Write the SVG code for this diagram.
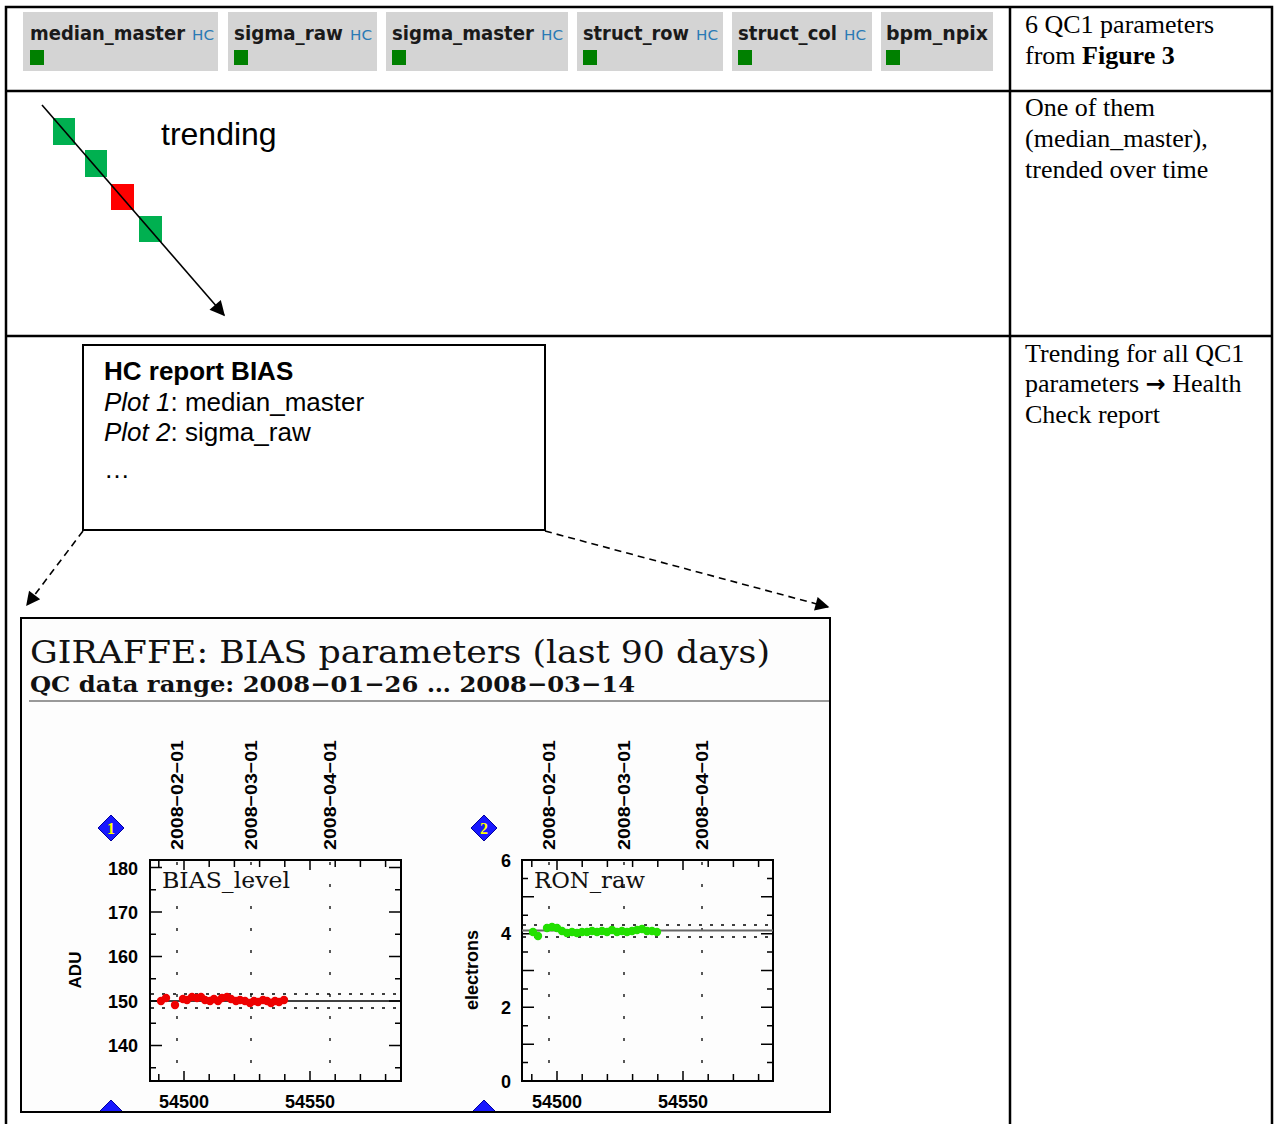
<svg xmlns="http://www.w3.org/2000/svg" width="1274" height="1124" viewBox="0 0 1274 1124">
<style>
.tbl{stroke:#000;stroke-width:2.5;fill:none}
.badge{fill:#d4d4d4}
.bl{font-family:"DejaVu Sans",sans-serif;font-weight:bold;font-size:19px;fill:#1a1a1a}
.hc{font-family:"DejaVu Sans",sans-serif;font-size:14px;fill:#2a7ab5}
.sq{fill:#008000}
.tms{font-family:"Liberation Serif","Times New Roman",serif;font-size:26px;fill:#000}
.ar{font-family:"Liberation Sans",Arial,sans-serif;fill:#000}
.hv{font-family:"Liberation Sans",Arial,sans-serif;font-weight:bold;fill:#000}
.ser{font-family:"DejaVu Serif","Liberation Serif",serif;fill:#111}
.frame{fill:none;stroke:#000;stroke-width:2}
.tick{fill:none;stroke:#000;stroke-width:1.5}
.vdot{stroke:#000;stroke-width:1.3;stroke-dasharray:3 19}
.hdot{stroke:#000;stroke-width:1.3;stroke-dasharray:3 8}
.dia{fill:#1818ff;stroke:#0000a0;stroke-width:1}
.dnum{font-family:"Liberation Serif",serif;font-weight:bold;font-size:16px;fill:#ffff00}
.conn{stroke:#000;stroke-width:1.6;fill:none}
.dash{stroke:#000;stroke-width:1.6;fill:none;stroke-dasharray:7 5}
</style>
<defs>
<marker id="ah2" viewBox="0 0 10 10" refX="9" refY="5" markerWidth="16" markerHeight="14" markerUnits="userSpaceOnUse" orient="auto"><path d="M0,0 L10,5 L0,10 z" fill="#000"/></marker>
<marker id="ah3" viewBox="0 0 10 10" refX="9" refY="5" markerWidth="19" markerHeight="15" markerUnits="userSpaceOnUse" orient="auto"><path d="M0,0 L10,5 L0,10 z" fill="#000"/></marker>
<clipPath id="plotclip"><rect x="21" y="618" width="809" height="494"/></clipPath>
</defs>
<rect width="1274" height="1124" fill="#fff"/>

<g id="table">
<path class="tbl" d="M6 1124 V7 H1272 V1124 M6 91 H1272 M6 336 H1272 M1010 7 V1124"/>
</g>

<g id="badge-median_master"><rect class="badge" x="23" y="12" width="195" height="59"/><text class="bl" x="30" y="40" textLength="155" lengthAdjust="spacingAndGlyphs">median_master</text><text class="hc" x="192" y="40" textLength="22" lengthAdjust="spacingAndGlyphs">HC</text><rect class="sq" x="30" y="50" width="14" height="15"/></g>
<g id="badge-sigma_raw"><rect class="badge" x="228" y="12" width="149" height="59"/><text class="bl" x="234" y="40" textLength="109" lengthAdjust="spacingAndGlyphs">sigma_raw</text><text class="hc" x="350" y="40" textLength="22" lengthAdjust="spacingAndGlyphs">HC</text><rect class="sq" x="234" y="50" width="14" height="15"/></g>
<g id="badge-sigma_master"><rect class="badge" x="386" y="12" width="182" height="59"/><text class="bl" x="392" y="40" textLength="142" lengthAdjust="spacingAndGlyphs">sigma_master</text><text class="hc" x="541" y="40" textLength="22" lengthAdjust="spacingAndGlyphs">HC</text><rect class="sq" x="392" y="50" width="14" height="15"/></g>
<g id="badge-struct_row"><rect class="badge" x="577" y="12" width="146" height="59"/><text class="bl" x="583" y="40" textLength="106" lengthAdjust="spacingAndGlyphs">struct_row</text><text class="hc" x="696" y="40" textLength="22" lengthAdjust="spacingAndGlyphs">HC</text><rect class="sq" x="583" y="50" width="14" height="15"/></g>
<g id="badge-struct_col"><rect class="badge" x="732" y="12" width="140" height="59"/><text class="bl" x="738" y="40" textLength="99" lengthAdjust="spacingAndGlyphs">struct_col</text><text class="hc" x="844" y="40" textLength="22" lengthAdjust="spacingAndGlyphs">HC</text><rect class="sq" x="738" y="50" width="14" height="15"/></g>
<g id="badge-bpm_npix"><rect class="badge" x="881" y="12" width="112" height="59"/><text class="bl" x="886" y="40" textLength="102" lengthAdjust="spacingAndGlyphs">bpm_npix</text><rect class="sq" x="886" y="50" width="14" height="15"/></g>

<g id="note1"><text class="tms" x="1025" y="33">6 QC1 parameters</text><text class="tms" x="1025" y="64">from <tspan font-weight="bold">Figure 3</tspan></text></g>
<g id="note2"><text class="tms" x="1025" y="116">One of them</text><text class="tms" x="1025" y="147">(median_master),</text><text class="tms" x="1025" y="178">trended over time</text></g>
<g id="note3"><text class="tms" x="1025" y="362">Trending for all QC1</text><text class="tms" x="1025" y="392">parameters <tspan font-family="'DejaVu Sans',sans-serif" font-weight="bold" font-size="24">→</tspan> Health</text><text class="tms" x="1025" y="423">Check report</text></g>

<g id="trend-points">
<rect x="53" y="118" width="22" height="27" fill="#00b050"/>
<rect x="85" y="150" width="22" height="27" fill="#00b050"/>
<rect x="111" y="184" width="23" height="26" fill="#ff0000"/>
<rect x="139" y="216" width="23" height="26" fill="#00b050"/>
</g>
<g id="trending-label"><text class="ar" x="161" y="145" font-size="32">trending</text></g>

<g id="hc-report">
<rect x="83" y="345" width="462" height="185" fill="#fff" stroke="#000" stroke-width="2"/>
<text class="ar" x="104" y="380" font-size="26" font-weight="bold">HC report BIAS</text>
<text class="ar" x="104" y="411" font-size="26"><tspan font-style="italic">Plot 1</tspan>: median_master</text>
<text class="ar" x="104" y="441" font-size="26"><tspan font-style="italic">Plot 2</tspan>: sigma_raw</text>
<text class="ar" x="104" y="478" font-size="26">…</text>
</g>

<g id="connectors">
<line class="conn" x1="42" y1="105" x2="224" y2="315" marker-end="url(#ah3)"/>
<line class="dash" x1="83" y1="531" x2="27" y2="605" marker-end="url(#ah2)"/>
<line class="dash" x1="545" y1="531" x2="828" y2="607" marker-end="url(#ah2)"/>
</g>

<g id="plot-image">
<rect x="21" y="618" width="809" height="494" fill="#fdfdfd"/>
<text class="ser" x="30" y="663" font-size="31" textLength="740" lengthAdjust="spacingAndGlyphs">GIRAFFE: BIAS parameters (last 90 days)</text>
<text class="ser" x="30" y="692" font-size="23" font-weight="bold" textLength="605" lengthAdjust="spacingAndGlyphs">QC data range: 2008−01−26 … 2008−03−14</text>
<line x1="29" y1="701" x2="830" y2="701" stroke="#999" stroke-width="2"/>

<g clip-path="url(#plotclip)">
<polygon class="dia" points="111,815 124,828 111,841 98,828"/>
<text class="dnum" x="111" y="834" text-anchor="middle">1</text>
<polygon class="dia" points="484,815 497,828 484,841 471,828"/>
<text class="dnum" x="484" y="834" text-anchor="middle">2</text>
<polygon class="dia" points="111,1100 124,1113 111,1126 98,1113"/>
<polygon class="dia" points="484,1100 497,1113 484,1126 471,1113"/>
</g>

<g id="plot1">
<text class="hv" font-size="17" transform="translate(183,850) rotate(-90)" textLength="110" lengthAdjust="spacingAndGlyphs">2008−02−01</text>
<text class="hv" font-size="17" transform="translate(257,850) rotate(-90)" textLength="110" lengthAdjust="spacingAndGlyphs">2008−03−01</text>
<text class="hv" font-size="17" transform="translate(336,850) rotate(-90)" textLength="110" lengthAdjust="spacingAndGlyphs">2008−04−01</text>
<rect class="frame" x="150" y="860" width="251" height="221" fill="#fff"/>
<path class="tick" d="M158.8 860v7M184 860v10M209.2 860v7M234.4 860v7M259.6 860v7M284.8 860v7M310 860v10M335.2 860v7M360.4 860v7M385.6 860v7
M158.8 1081v-7M184 1081v-10M209.2 1081v-7M234.4 1081v-7M259.6 1081v-7M284.8 1081v-7M310 1081v-10M335.2 1081v-7M360.4 1081v-7M385.6 1081v-7
M150 867.5h12M150 889.75h6M150 912h12M150 934.25h6M150 956.5h12M150 978.75h6M150 1001h12M150 1023.25h6M150 1045.5h12M150 1067.75h6
M401 867.5h-12M401 889.75h-6M401 912h-12M401 934.25h-6M401 956.5h-12M401 978.75h-6M401 1001h-12M401 1023.25h-6M401 1045.5h-12M401 1067.75h-6"/>
<line class="vdot" x1="177" y1="862" x2="177" y2="1080"/>
<line class="vdot" x1="251" y1="862" x2="251" y2="1080"/>
<line class="vdot" x1="330" y1="862" x2="330" y2="1080"/>
<line class="hdot" x1="151" y1="994" x2="400" y2="994"/>
<line class="hdot" x1="151" y1="1008" x2="400" y2="1008"/>
<line x1="150" y1="1001" x2="401" y2="1001" stroke="#000" stroke-width="1.3"/>
<g fill="#ee0000">
<circle cx="161" cy="1001" r="4.2"/><circle cx="166" cy="998" r="4.2"/><circle cx="175" cy="1005" r="4.2"/><circle cx="183" cy="999" r="4.2"/><circle cx="187" cy="1000" r="4.2"/><circle cx="192" cy="997" r="4.2"/><circle cx="197" cy="998" r="4.2"/><circle cx="201" cy="997" r="4.2"/><circle cx="205" cy="1000" r="4.2"/><circle cx="210" cy="1001" r="4.2"/><circle cx="214" cy="999" r="4.2"/><circle cx="218" cy="1001" r="4.2"/><circle cx="222" cy="998" r="4.2"/><circle cx="227" cy="997" r="4.2"/><circle cx="231" cy="999" r="4.2"/><circle cx="236" cy="1001" r="4.2"/><circle cx="240" cy="1000" r="4.2"/><circle cx="245" cy="1001" r="4.2"/><circle cx="250" cy="1003" r="4.2"/><circle cx="254" cy="1001" r="4.2"/><circle cx="258" cy="1002" r="4.2"/><circle cx="263" cy="1000" r="4.2"/><circle cx="267" cy="1001" r="4.2"/><circle cx="271" cy="1003" r="4.2"/><circle cx="275" cy="1001" r="4.2"/><circle cx="279" cy="1002" r="4.2"/><circle cx="284" cy="1000" r="4.2"/>
</g>
<text class="ser" x="162" y="888" font-size="23" textLength="128" lengthAdjust="spacingAndGlyphs">BIAS_level</text>
<g class="hv" font-size="18" text-anchor="end">
<text x="138" y="875">180</text><text x="138" y="919">170</text><text x="138" y="963">160</text><text x="138" y="1008">150</text><text x="138" y="1052">140</text>
</g>
<g class="hv" font-size="18" text-anchor="middle">
<text x="184" y="1108">54500</text><text x="310" y="1108">54550</text>
</g>
<text class="hv" font-size="17" text-anchor="middle" transform="translate(81,970) rotate(-90)">ADU</text>
</g>

<g id="plot2">
<text class="hv" font-size="17" transform="translate(555,850) rotate(-90)" textLength="110" lengthAdjust="spacingAndGlyphs">2008−02−01</text>
<text class="hv" font-size="17" transform="translate(630,850) rotate(-90)" textLength="110" lengthAdjust="spacingAndGlyphs">2008−03−01</text>
<text class="hv" font-size="17" transform="translate(708,850) rotate(-90)" textLength="110" lengthAdjust="spacingAndGlyphs">2008−04−01</text>
<rect class="frame" x="522" y="860" width="251" height="221" fill="#fff"/>
<path class="tick" d="M531.8 860v7M557 860v10M582.2 860v7M607.4 860v7M632.6 860v7M657.8 860v7M683 860v10M708.2 860v7M733.4 860v7M758.6 860v7
M531.8 1081v-7M557 1081v-10M582.2 1081v-7M607.4 1081v-7M632.6 1081v-7M657.8 1081v-7M683 1081v-10M708.2 1081v-7M733.4 1081v-7M758.6 1081v-7
M522 1062.6h6M522 1044.2h12M522 1025.7h6M522 1007.3h12M522 988.9h6M522 970.5h12M522 952.1h6M522 933.7h12M522 915.2h6M522 896.8h12M522 878.4h6
M773 1062.6h-6M773 1044.2h-12M773 1025.7h-6M773 1007.3h-12M773 988.9h-6M773 970.5h-12M773 952.1h-6M773 933.7h-12M773 915.2h-6M773 896.8h-12M773 878.4h-6"/>
<line class="vdot" x1="549" y1="862" x2="549" y2="1080"/>
<line class="vdot" x1="624" y1="862" x2="624" y2="1080"/>
<line class="vdot" x1="702" y1="862" x2="702" y2="1080"/>
<line class="hdot" x1="523" y1="925" x2="772" y2="925"/>
<line class="hdot" x1="523" y1="937" x2="772" y2="937"/>
<line x1="522" y1="930.5" x2="773" y2="930.5" stroke="#666" stroke-width="2"/>
<g fill="#22e000">
<circle cx="533" cy="932" r="4.2"/><circle cx="538" cy="936" r="4.2"/><circle cx="547" cy="928" r="4.2"/><circle cx="552" cy="927" r="4.2"/><circle cx="557" cy="928" r="4.2"/><circle cx="562" cy="931" r="4.2"/><circle cx="567" cy="933" r="4.2"/><circle cx="572" cy="932" r="4.2"/><circle cx="577" cy="933" r="4.2"/><circle cx="582" cy="932" r="4.2"/><circle cx="587" cy="932" r="4.2"/><circle cx="592" cy="931" r="4.2"/><circle cx="597" cy="932" r="4.2"/><circle cx="602" cy="931" r="4.2"/><circle cx="607" cy="932" r="4.2"/><circle cx="612" cy="930" r="4.2"/><circle cx="617" cy="932" r="4.2"/><circle cx="622" cy="931" r="4.2"/><circle cx="627" cy="932" r="4.2"/><circle cx="632" cy="931" r="4.2"/><circle cx="637" cy="930" r="4.2"/><circle cx="642" cy="929" r="4.2"/><circle cx="647" cy="931" r="4.2"/><circle cx="652" cy="931" r="4.2"/><circle cx="657" cy="932" r="4.2"/>
</g>
<text class="ser" x="534" y="888" font-size="23" textLength="111" lengthAdjust="spacingAndGlyphs">RON_raw</text>
<g class="hv" font-size="18" text-anchor="end">
<text x="511" y="867">6</text><text x="511" y="940">4</text><text x="511" y="1014">2</text><text x="511" y="1088">0</text>
</g>
<g class="hv" font-size="18" text-anchor="middle">
<text x="557" y="1108">54500</text><text x="683" y="1108">54550</text>
</g>
<text class="hv" font-size="18" text-anchor="middle" transform="translate(478,970) rotate(-90)">electrons</text>
</g>

<rect x="21" y="618" width="809" height="494" fill="none" stroke="#000" stroke-width="2"/>
</g>
</svg>
